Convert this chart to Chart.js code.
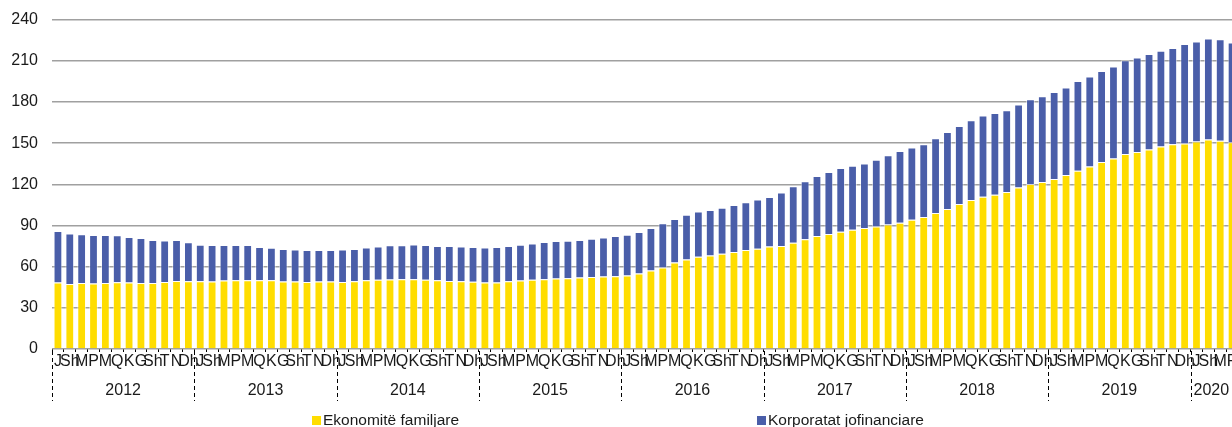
<!DOCTYPE html>
<html lang="sq">
<head>
    <meta charset="UTF-8">
    <title>Kredia sipas sektorëve</title>
    <script src="https://cdn.jsdelivr.net/npm/chart.js@4/dist/chart.umd.min.js"></script>
    <style>
        html, body {
            margin: 0;
            padding: 0;
            overflow: hidden;
            background: #ffffff;
        }

        .chart-box {
            width: 1238px;
            height: 427px;
        }
    </style>
</head>
<body>
    <div class="chart-box">
        <canvas id="loanChart"></canvas>
    </div>

    <script>
        const months = ['J', 'Sh', 'M', 'P', 'M', 'Q', 'K', 'G', 'Sh', 'T', 'N', 'Dh'];
        const years = ['2012', '2013', '2014', '2015', '2016', '2017', '2018', '2019', '2020'];

        // Ekonomitë familjare (yellow, bottom)
        const households = [
            48.4, 47.4, 48.1, 47.7, 48.1, 48.6, 48.4, 48.1, 48.1, 48.9, 49.6, 49.4,
            49.4, 49.2, 49.9, 50.1, 50.1, 50.1, 50.1, 49.2, 49.2, 48.9, 49.2, 49.2,
            48.9, 49.4, 50.1, 50.4, 50.6, 50.8, 50.8, 50.4, 50.1, 49.6, 49.4, 49.0,
            48.4, 48.4, 49.4, 49.9, 50.4, 50.8, 51.3, 51.6, 52.1, 52.5, 52.8, 53.0,
            53.5, 55.0, 57.2, 59.4, 63.1, 65.3, 67.2, 68.2, 69.4, 70.6, 72.1, 73.0,
            74.7, 75.0, 77.4, 79.9, 82.3, 83.8, 85.4, 86.9, 88.1, 89.2, 90.8, 92.0,
            94.2, 96.2, 99.1, 102.0, 105.7, 108.6, 111.0, 112.3, 114.3, 117.6, 120.3, 121.6,
            123.9, 126.7, 129.8, 133.0, 136.2, 138.8, 142.0, 143.5, 145.4, 147.6, 149.1, 149.8,
            151.1, 152.7, 151.8, 150.6
        ];

        // Korporatat jofinanciare (blue, top)
        const corporates = [
            37.6, 36.8, 35.5, 35.3, 34.9, 34.2, 33.2, 32.7, 31.3, 30.2, 29.8, 28.3,
            26.5, 26.5, 25.8, 25.6, 25.6, 24.2, 23.6, 23.6, 23.3, 23.2, 22.9, 22.9,
            23.6, 23.4, 23.9, 24.3, 25.0, 24.8, 25.4, 25.3, 24.9, 25.4, 25.3, 25.4,
            25.6, 25.9, 25.6, 26.0, 26.5, 27.1, 27.3, 27.3, 27.3, 27.8, 28.5, 29.3,
            29.8, 30.2, 30.9, 32.2, 31.6, 32.5, 32.9, 33.1, 33.6, 34.4, 34.8, 35.9,
            36.1, 39.0, 41.2, 42.4, 43.7, 45.1, 46.4, 46.6, 47.1, 48.7, 50.3, 52.2,
            52.7, 52.9, 54.4, 56.1, 56.8, 58.0, 59.1, 59.7, 59.7, 60.5, 61.7, 62.6,
            63.3, 63.9, 65.4, 65.6, 66.3, 67.1, 68.3, 68.8, 69.5, 69.7, 70.2, 72.5,
            72.9, 73.5, 73.9, 72.7
        ];

        const labels = households.map((v, i) => months[i % 12]);

        const textColor = '#1a1a1a';
        const fontFamily = "'Liberation Sans', Arial, sans-serif";

        // Year row + dashed separators under the month labels
        const yearRow = {
            id: 'yearRow',
            afterDraw(chart) {
                const ctx = chart.ctx;
                const x = chart.scales.x;
                const area = chart.chartArea;
                const half = (x.getPixelForValue(1) - x.getPixelForValue(0)) / 2;
                ctx.save();
                ctx.strokeStyle = '#000';
                ctx.lineWidth = 1;
                ctx.setLineDash([4, 3]);
                ctx.font = '16px ' + fontFamily;
                ctx.fillStyle = textColor;
                ctx.textAlign = 'center';
                ctx.textBaseline = 'middle';
                years.forEach((yr, k) => {
                    const first = k * 12;
                    const last = Math.min(first + 11, labels.length - 1);
                    const left = x.getPixelForValue(first) - half;
                    const right = x.getPixelForValue(last) + half;
                    const sx = Math.round(left) + 0.5;
                    ctx.beginPath();
                    ctx.moveTo(sx, area.bottom + 2);
                    ctx.lineTo(sx, area.bottom + 52);
                    ctx.stroke();
                    ctx.fillText(yr, (left + Math.min(right, 1232)) / 2, area.bottom + 42);
                });
                ctx.restore();
            }
        };

        // Legend drawn at the bottom, items spread like the original
        const bottomLegend = {
            id: 'bottomLegend',
            afterDraw(chart) {
                const ctx = chart.ctx;
                const spots = [312, 757];
                ctx.save();
                ctx.font = '15.5px ' + fontFamily;
                ctx.textBaseline = 'middle';
                ctx.textAlign = 'left';
                chart.data.datasets.forEach((ds, i) => {
                    ctx.fillStyle = ds.backgroundColor;
                    ctx.fillRect(spots[i], 416, 9, 9);
                    ctx.fillStyle = textColor;
                    ctx.fillText(ds.label, spots[i] + 11, 421);
                });
                ctx.restore();
            }
        };

        new Chart(document.getElementById('loanChart'), {
            type: 'bar',
            data: {
                labels: labels,
                datasets: [{
                    label: 'Ekonomitë familjare',
                    data: households,
                    backgroundColor: '#ffdd00',
                    borderColor: 'rgba(255,255,255,0.55)',
                    borderWidth: 1,
                    barPercentage: 0.74,
                    categoryPercentage: 1
                }, {
                    label: 'Korporatat jofinanciare',
                    data: corporates,
                    backgroundColor: '#4a5ea9',
                    borderColor: 'rgba(255,255,255,0.55)',
                    borderWidth: 1,
                    barPercentage: 0.74,
                    categoryPercentage: 1
                }]
            },
            options: {
                responsive: true,
                maintainAspectRatio: false,
                animation: false,
                layout: {
                    padding: { top: 8, right: 0, bottom: 0, left: 0 }
                },
                plugins: {
                    legend: { display: false },
                    tooltip: { enabled: false }
                },
                scales: {
                    x: {
                        stacked: true,
                        afterFit(scale) { scale.height = 78; },
                        border: { display: false },
                        grid: {
                            drawOnChartArea: false,
                            drawTicks: true,
                            tickLength: 3,
                            color: '#000'
                        },
                        ticks: {
                            autoSkip: false,
                            maxRotation: 0,
                            minRotation: 0,
                            padding: 0,
                            color: textColor,
                            font: { family: fontFamily, size: 16 }
                        }
                    },
                    y: {
                        stacked: true,
                        min: 0,
                        max: 240,
                        afterFit(scale) { scale.width = 52; },
                        border: { display: false },
                        grid: {
                            drawTicks: true,
                            tickLength: 4,
                            tickColor: 'rgba(0,0,0,0)',
                            color: '#a0a0a0',
                            lineWidth: 1.5
                        },
                        ticks: {
                            stepSize: 30,
                            padding: 10,
                            color: textColor,
                            font: { family: fontFamily, size: 16 }
                        }
                    }
                }
            },
            plugins: [yearRow, bottomLegend]
        });
    </script>
</body>
</html>
